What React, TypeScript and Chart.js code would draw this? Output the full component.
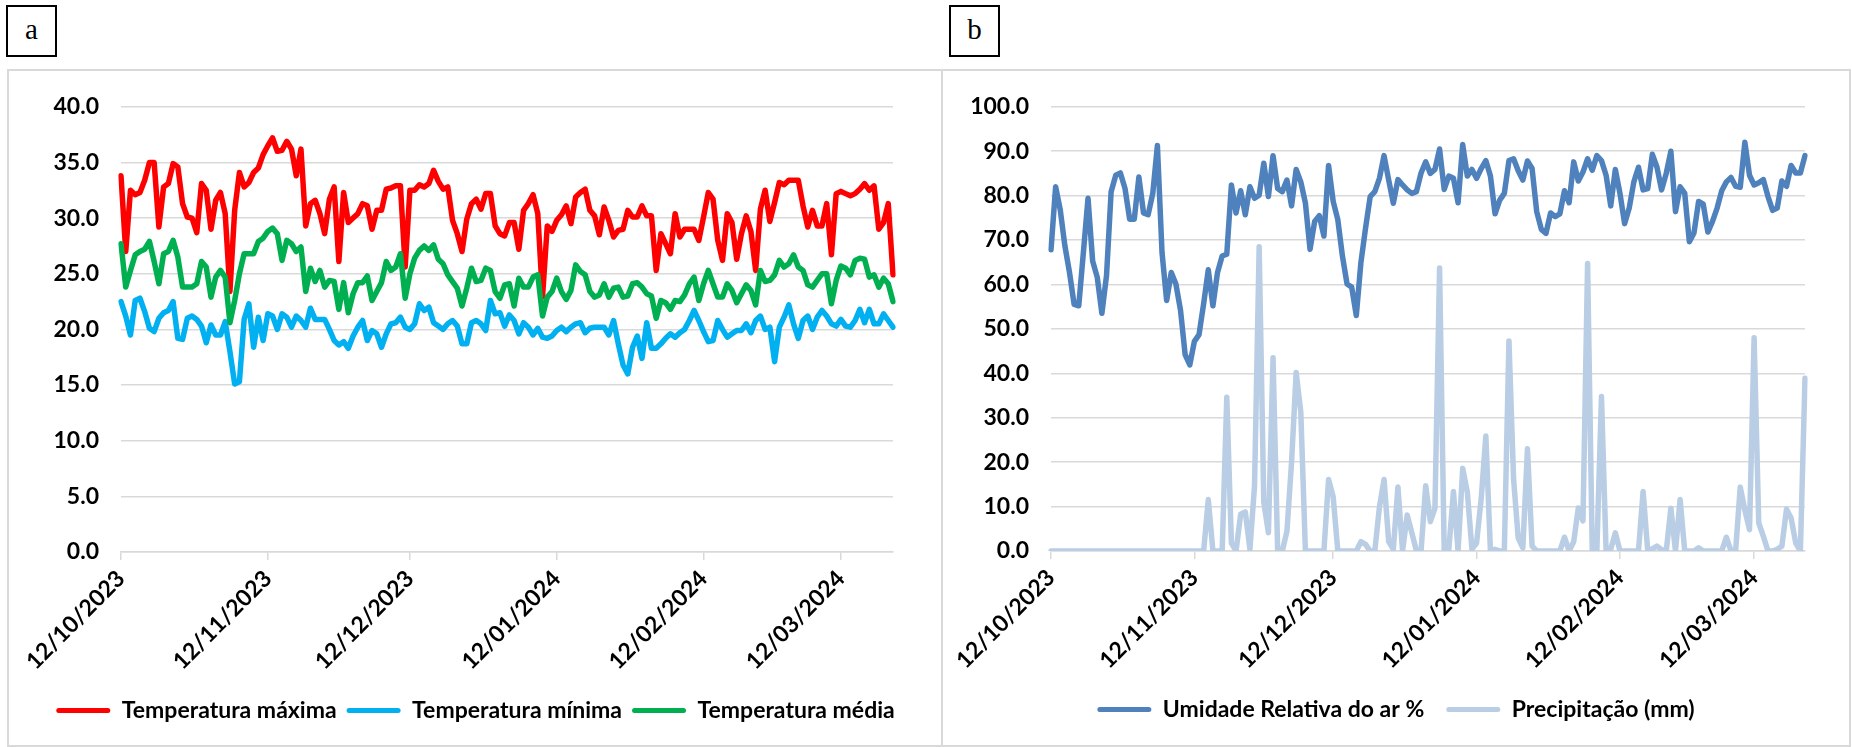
import React, { useEffect, useRef } from 'react';
import { Chart, registerables } from 'chart.js';

Chart.register(...registerables);

// ---- categories ----
const START_YEAR = 2023;
const START_MONTH = 10;
const START_DAY = 12;
const DAY_COUNT = 164;
const TICK_LABELS = ['12/10/2023', '12/11/2023', '12/12/2023', '12/01/2024', '12/02/2024', '12/03/2024'];

const pad2 = (n: number) => (n < 10 ? '0' + n : String(n));
const DATES: string[] = [];
for (let i = 0; i < DAY_COUNT; i++) {
  const d = new Date(Date.UTC(START_YEAR, START_MONTH - 1, START_DAY + i));
  DATES.push(`${pad2(d.getUTCDate())}/${pad2(d.getUTCMonth() + 1)}/${d.getUTCFullYear()}`);
}

// ---- panel a series (°C) ----
const T_MAX = [
  33.8, 27.0, 32.5, 32.1, 32.3, 33.4, 35.0, 35.0, 29.2, 32.8,
  33.1, 34.9, 34.6, 31.3, 30.1, 30.0, 28.7, 33.1, 32.5, 29.0,
  31.6, 32.3, 30.4, 23.4, 30.7, 34.1, 32.8, 33.2, 34.1, 34.5,
  35.7, 36.5, 37.2, 36.0, 36.1, 36.9, 36.2, 33.8, 36.2, 29.3,
  31.3, 31.6, 30.4, 28.6, 31.7, 32.8, 26.1, 32.3, 29.6, 30.0,
  30.4, 31.3, 31.1, 29.0, 30.7, 30.7, 32.6, 32.7, 32.9, 32.9,
  25.6, 32.5, 32.5, 33.0, 32.8, 33.1, 34.3, 33.3, 32.6, 32.8,
  29.8, 28.6, 27.0, 29.9, 31.3, 31.7, 30.8, 32.2, 32.2, 29.3,
  28.6, 28.4, 29.6, 29.6, 27.2, 30.7, 31.3, 32.1, 30.4, 22.9,
  29.3, 28.8, 29.8, 30.3, 31.1, 29.5, 31.9, 32.3, 32.6, 30.7,
  30.2, 28.5, 31.0, 29.8, 28.3, 28.9, 29.0, 30.7, 30.1, 30.1,
  31.1, 30.2, 30.2, 25.3, 28.6, 27.7, 26.8, 30.4, 28.3, 29.0,
  29.0, 29.0, 28.0, 30.1, 32.3, 31.7, 28.0, 26.2, 30.4, 29.6,
  26.3, 28.6, 30.2, 28.8, 25.3, 30.8, 32.5, 29.7, 31.4, 33.2,
  33.0, 33.4, 33.4, 33.4, 31.1, 29.2, 30.7, 29.3, 29.3, 31.3,
  26.7, 32.2, 32.4, 32.2, 32.0, 32.2, 32.6, 33.1, 32.5, 32.9,
  29.0, 29.6, 31.3, 24.9,
];

const T_MIN = [
  22.5, 21.2, 19.5, 22.6, 22.8, 21.6, 20.1, 19.8, 21.0, 21.5,
  21.7, 22.5, 19.2, 19.1, 21.0, 21.2, 20.9, 20.3, 18.8, 20.4,
  19.5, 19.5, 20.7, 18.0, 15.1, 15.3, 20.9, 22.3, 18.4, 21.1,
  19.0, 21.4, 21.2, 20.0, 21.4, 21.1, 20.2, 21.2, 20.8, 20.2,
  21.9, 20.9, 20.9, 20.9, 20.0, 19.0, 18.6, 18.9, 18.3, 19.4,
  20.2, 20.8, 19.0, 19.9, 19.6, 18.4, 19.6, 20.5, 20.6, 21.1,
  20.2, 20.0, 20.5, 22.3, 21.7, 22.0, 20.6, 20.3, 20.0, 20.5,
  20.8, 20.3, 18.7, 18.7, 20.6, 20.8, 20.5, 19.9, 22.6, 21.4,
  21.5, 20.3, 21.3, 20.8, 19.6, 20.6, 20.2, 19.5, 20.1, 19.3,
  19.2, 19.4, 19.9, 20.2, 19.8, 20.2, 20.5, 20.6, 19.7, 20.1,
  20.2, 20.2, 20.2, 19.5, 20.8, 18.7, 16.8, 16.0, 18.4, 19.4,
  17.4, 20.6, 18.3, 18.3, 18.7, 19.2, 19.6, 19.3, 19.7, 20.0,
  20.8, 21.7, 20.8, 19.8, 18.9, 19.0, 20.8, 20.0, 19.3, 19.6,
  19.9, 19.9, 20.5, 19.7, 20.8, 21.2, 20.0, 20.2, 17.1, 20.2,
  21.1, 22.2, 20.5, 19.2, 20.8, 21.2, 20.0, 21.1, 21.7, 21.2,
  20.5, 20.3, 20.9, 20.3, 20.2, 20.8, 21.8, 20.6, 21.8, 20.5,
  20.5, 21.4, 20.8, 20.2,
];

const T_MED = [
  27.7, 23.8, 25.3, 26.7, 27.0, 27.2, 27.9, 26.1, 24.1, 26.8,
  27.0, 28.0, 26.5, 23.8, 23.8, 23.8, 24.1, 26.1, 25.6, 22.9,
  24.7, 25.3, 24.7, 20.6, 22.6, 25.0, 26.8, 26.8, 26.8, 27.9,
  28.2, 28.8, 29.1, 28.6, 26.2, 28.0, 27.7, 27.0, 27.4, 23.4,
  25.5, 24.3, 25.3, 23.8, 24.4, 24.3, 21.8, 24.2, 21.5, 23.2,
  24.2, 24.2, 24.8, 22.6, 23.4, 24.2, 26.1, 25.3, 25.6, 26.8,
  22.8, 25.0, 26.4, 27.1, 27.5, 27.1, 27.6, 26.3, 25.9, 24.9,
  24.3, 23.7, 22.1, 23.7, 25.5, 24.3, 24.4, 25.5, 25.3, 23.4,
  22.8, 24.0, 24.1, 22.1, 24.6, 23.8, 23.8, 24.7, 24.9, 21.2,
  22.9, 23.4, 24.6, 23.4, 22.7, 23.5, 25.8, 25.2, 24.9, 23.4,
  22.9, 23.1, 24.1, 22.9, 23.7, 23.8, 22.9, 23.0, 24.1, 24.2,
  23.8, 23.2, 23.0, 21.0, 22.6, 22.4, 21.8, 22.6, 22.5, 23.1,
  24.1, 24.7, 22.6, 24.1, 25.3, 24.1, 22.9, 22.9, 24.1, 23.5,
  22.4, 23.2, 24.0, 23.5, 22.2, 25.3, 24.3, 24.4, 24.9, 26.2,
  25.6, 25.9, 26.7, 25.6, 25.3, 24.0, 23.8, 24.4, 25.0, 25.0,
  22.3, 24.4, 25.7, 25.5, 24.9, 26.2, 26.4, 26.3, 24.7, 24.9,
  23.8, 24.6, 24.1, 22.5,
];

// ---- panel b series ----
const HUMIDITY = [
  67.8, 82.0, 76.8, 68.7, 62.7, 55.5, 55.2, 67.2, 79.4, 65.3,
  61.6, 53.5, 62.0, 80.9, 84.6, 85.1, 81.6, 74.7, 74.7, 84.2,
  76.1, 75.7, 80.5, 91.3, 67.2, 56.4, 62.7, 60.1, 54.2, 44.2,
  41.9, 47.2, 48.7, 55.7, 63.3, 55.2, 62.7, 66.4, 66.8, 82.4,
  76.1, 81.1, 75.7, 82.0, 79.4, 80.1, 87.3, 79.8, 89.0, 81.6,
  80.9, 83.5, 77.7, 85.9, 83.1, 78.3, 67.9, 74.2, 75.5, 70.9,
  86.8, 78.7, 74.6, 66.4, 60.1, 59.4, 53.0, 65.0, 72.7, 79.8,
  80.9, 83.9, 89.0, 83.5, 78.3, 83.6, 82.4, 81.3, 80.5, 80.9,
  85.1, 87.6, 85.0, 85.9, 90.5, 81.4, 84.4, 83.9, 78.4, 91.5,
  84.4, 85.9, 83.9, 86.1, 87.9, 84.4, 75.9, 79.0, 80.5, 87.9,
  88.3, 85.6, 83.5, 87.8, 86.1, 76.4, 72.4, 71.5, 76.1, 75.3,
  75.9, 81.1, 78.4, 87.6, 83.3, 85.3, 88.3, 85.7, 89.0, 87.9,
  84.6, 77.7, 85.9, 80.5, 73.7, 77.2, 83.1, 86.4, 81.3, 81.6,
  89.3, 86.4, 81.3, 85.0, 90.0, 76.4, 82.0, 80.5, 69.6, 71.6,
  78.7, 78.1, 71.8, 74.2, 77.2, 81.1, 83.1, 84.1, 82.1, 81.9,
  92.0, 84.6, 82.4, 82.9, 83.6, 79.8, 76.7, 77.2, 83.3, 82.1,
  86.8, 85.1, 85.1, 89.0,
];

const PRECIP = [
  0, 0, 0, 0, 0, 0, 0, 0, 0, 0,
  0, 0, 0, 0, 0, 0, 0, 0, 0, 0,
  0, 0, 0, 0, 0, 0, 0, 0, 0, 0,
  0, 0, 0, 0, 11.6, 0, 0, 0, 34.6, 1.8,
  0, 8.3, 8.8, 0.4, 14.7, 68.5, 11.0, 4.1, 43.5, 0,
  0, 4.4, 19.9, 40.2, 31.3, 0, 0, 0, 0, 0,
  16.1, 12.2, 0, 0, 0, 0, 0, 2.1, 1.5, 0,
  0, 9.9, 16.1, 2.1, 0.4, 14.4, 0, 8.1, 4.1, 0,
  0, 14.7, 6.6, 9.6, 63.7, 0, 0.4, 13.4, 0, 18.6,
  13.3, 0.4, 1.8, 11.8, 25.9, 0, 0.4, 0, 0, 47.3,
  16.2, 2.9, 0.7, 23.0, 1.1, 0, 0, 0, 0, 0,
  0, 3.1, 0, 2.1, 9.7, 6.8, 64.7, 0.4, 0, 34.8,
  0, 0.4, 4.1, 0, 0, 0, 0, 0, 13.4, 0,
  0.5, 1.1, 0.3, 0, 9.6, 0, 11.6, 0, 0, 0,
  0.7, 0, 0, 0, 0, 0, 3.1, 0, 0, 14.4,
  9.2, 4.8, 48.0, 6.3, 3.3, 0, 0, 0.4, 1.1, 9.4,
  7.4, 1.8, 0, 38.9,
];

const SERIES_A = [
  { label: 'Temperatura máxima', data: T_MAX, color: '#FF0000' },
  { label: 'Temperatura mínima', data: T_MIN, color: '#00B0F0' },
  { label: 'Temperatura média', data: T_MED, color: '#00B050' },
];
const SERIES_B = [
  { label: 'Umidade Relativa do ar %', data: HUMIDITY, color: '#4F81BD' },
  { label: 'Precipitação (mm)', data: PRECIP, color: '#B9CDE5' },
];

const FONT = 'Lato, "Open Sans", sans-serif';
const GRID = '#d9d9d9';
const TICK_FONT_SIZE = 23;
const LEGEND_FONT_SIZE = 23;

type PanelCfg = {
  series: { label: string; data: number[]; color: string }[];
  yMax: number;
  yStep: number;
  width: number;
  height: number;
  yAxisWidth: number;
  rightSpace: number;
  padBottom: number;
  xAxisHeight: number;
  legendGap: number;
};

function buildConfig(cfg: PanelCfg): any {
  const n = cfg.series.length;
  return {
    type: 'line',
    data: {
      labels: DATES,
      datasets: cfg.series.map((s, i) => ({
        label: s.label,
        data: s.data,
        borderColor: s.color,
        backgroundColor: s.color,
        borderWidth: 5.5,
        pointRadius: 0,
        pointHoverRadius: 0,
        tension: 0,
        fill: false,
        borderJoinStyle: 'round',
        borderCapStyle: 'round',
        yAxisID: 'y',
        order: n - i,
      })),
    },
    options: {
      responsive: false,
      animation: false,
      events: [],
      layout: { padding: { top: 29, right: 0, bottom: cfg.padBottom, left: 0 } },
      plugins: {
        tooltip: { enabled: false },
        legend: {
          position: 'bottom',
          labels: {
            boxWidth: 54,
            boxHeight: 5,
            padding: cfg.legendGap,
            color: '#000',
            font: { family: FONT, size: LEGEND_FONT_SIZE, weight: 'bold' },
            sort: (a: any, b: any) => a.datasetIndex - b.datasetIndex,
            generateLabels: (chart: any) =>
              Chart.defaults.plugins.legend.labels.generateLabels(chart).map((l: any) => ({
                ...l,
                fillStyle: l.strokeStyle,
                lineWidth: 0,
                borderRadius: 2.5,
              })),
          },
        },
      },
      scales: {
        x: {
          type: 'category',
          afterFit: (s: any) => {
            s.height = cfg.xAxisHeight;
          },
          border: { display: true, color: GRID, width: 1.5 },
          grid: {
            drawOnChartArea: false,
            drawTicks: true,
            tickLength: 8,
            lineWidth: 1.5,
            color: (ctx: any) => (TICK_LABELS.includes(DATES[ctx.index]) ? GRID : 'rgba(0,0,0,0)'),
          },
          ticks: {
            autoSkip: false,
            maxRotation: 45,
            minRotation: 45,
            padding: 5,
            color: '#000',
            font: { family: FONT, size: TICK_FONT_SIZE, weight: 'bold' },
            callback: (_v: any, i: number) => (TICK_LABELS.includes(DATES[i]) ? DATES[i] : ''),
          },
        },
        y: {
          min: 0,
          max: cfg.yMax,
          position: 'left',
          afterFit: (s: any) => {
            s.width = cfg.yAxisWidth;
          },
          border: { display: false },
          grid: { color: GRID, lineWidth: 1.5, drawTicks: false },
          ticks: {
            stepSize: cfg.yStep,
            padding: 22,
            color: '#000',
            font: { family: FONT, size: TICK_FONT_SIZE, weight: 'bold' },
            callback: (v: any) => Number(v).toFixed(1),
          },
        },
        // empty right-hand spacer keeps the plot narrower while the legend stays centred on the panel
        spacer: {
          type: 'linear',
          position: 'right',
          display: true,
          afterFit: (s: any) => {
            s.width = cfg.rightSpace;
          },
          border: { display: false },
          grid: { display: false, drawOnChartArea: false },
          ticks: { display: false },
        },
      },
    },
  };
}

function ChartCanvas({ cfg, left, top }: { cfg: PanelCfg; left: number; top: number }) {
  const ref = useRef<HTMLCanvasElement>(null);
  useEffect(() => {
    if (!ref.current) return;
    const chart = new Chart(ref.current, buildConfig(cfg));
    return () => chart.destroy();
  }, []);
  return (
    <canvas
      ref={ref}
      width={cfg.width}
      height={cfg.height}
      style={{ position: 'absolute', left, top, width: cfg.width, height: cfg.height }}
    />
  );
}

const PANEL_A: PanelCfg = {
  series: SERIES_A,
  yMax: 40,
  yStep: 5,
  width: 933,
  height: 675,
  yAxisWidth: 112,
  rightSpace: 49,
  padBottom: 14,
  xAxisHeight: 137,
  legendGap: 10,
};

const PANEL_B: PanelCfg = {
  series: SERIES_B,
  yMax: 100,
  yStep: 10,
  width: 906,
  height: 675,
  yAxisWidth: 108,
  rightSpace: 44,
  padBottom: 15,
  xAxisHeight: 125,
  legendGap: 22,
};

function LabelBox({ text, left }: { text: string; left: number }) {
  return (
    <div
      style={{
        position: 'absolute',
        left,
        top: 5,
        width: 51,
        height: 52,
        boxSizing: 'border-box',
        border: '2px solid #000',
        display: 'flex',
        alignItems: 'center',
        justifyContent: 'center',
        fontFamily: '"Liberation Serif", "Times New Roman", serif',
        fontSize: 29,
        color: '#000',
        lineHeight: 1,
        paddingBottom: 4,
      }}
    >
      {text}
    </div>
  );
}

export default function App() {
  return (
    <div style={{ position: 'fixed', left: 0, top: 0, width: 1852, height: 747, background: '#fff', overflow: 'hidden' }}>
      <LabelBox text="a" left={6} />
      <LabelBox text="b" left={949} />
      <div
        style={{
          position: 'absolute',
          left: 7,
          top: 69,
          width: 936,
          height: 678,
          boxSizing: 'border-box',
          border: `2px solid ${GRID}`,
        }}
      />
      <div
        style={{
          position: 'absolute',
          left: 941,
          top: 69,
          width: 910,
          height: 678,
          boxSizing: 'border-box',
          border: `2px solid ${GRID}`,
        }}
      />
      <ChartCanvas cfg={PANEL_A} left={9} top={71} />
      <ChartCanvas cfg={PANEL_B} left={943} top={71} />
    </div>
  );
}
